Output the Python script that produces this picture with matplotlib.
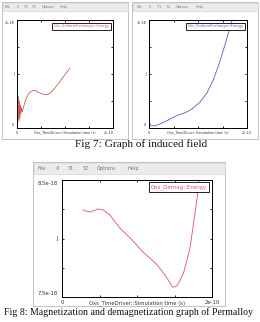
"""
Recreation of two OOMMF mmGraph screenshots (Fig 7) and one (Fig 8)
with their captions, drawn in one small figure.
"""

import matplotlib
matplotlib.use("Agg")
import matplotlib.pyplot as plt
from matplotlib.patches import Rectangle

W, H = 260, 322

# Fig 7 left: Oxs_UniformExchange::Energy (time in 1e-10 s, energy in 1e-28 J)
exch_t = [0.00, 0.01, 0.02, 0.03, 0.04, 0.05, 0.06, 0.07, 0.08, 0.09, 0.11,
          0.14, 0.18, 0.23, 0.29, 0.36, 0.43, 0.50, 0.57, 0.63, 0.70, 0.78,
          0.86, 0.94, 1.02, 1.10]
exch_e = [0.45, 0.66, 0.15, 0.58, 0.12, 0.50, 0.18, 0.42, 0.26, 0.38, 0.30,
          0.40, 0.52, 0.62, 0.68, 0.70, 0.67, 0.64, 0.62, 0.62, 0.65, 0.73,
          0.82, 0.92, 1.01, 1.11]

# Fig 7 right: Oxs_UniformExchange::Energy (time in 1e-10 s, energy in 1e-28 J)
exch2_t = [0.00, 0.04, 0.12, 0.27, 0.43, 0.59, 0.73, 0.88, 1.04, 1.18, 1.31,
           1.43, 1.55, 1.65, 1.71]
exch2_e = [0.17, 0.06, 0.06, 0.14, 0.25, 0.36, 0.42, 0.53, 0.72, 0.97, 1.33,
           1.78, 2.31, 2.78, 3.05]

# Fig 8: Oxs_Demag::Energy (time in 1e-10 s, energy in 1e-18 J)
demag_t = [0.28, 0.37, 0.48, 0.55, 0.64, 0.77, 0.91, 1.08, 1.27, 1.40, 1.44,
           1.48, 1.53, 1.57, 1.62, 1.66, 1.71, 1.75, 1.80, 1.83]
demag_e = [8.244, 8.226, 8.252, 8.244, 8.20, 8.09, 8.004, 7.885, 7.774,
           7.662, 7.62, 7.583, 7.594, 7.637, 7.705, 7.80, 7.93, 8.115, 8.34,
           8.52]

menu_items = ["File", "X", "Y1", "Y2", "Options", "Help"]


def frac(x0, y0, x1, y1):
    """pixel box (top-left origin) -> figure fraction rect"""
    return [x0 / W, 1 - y1 / H, (x1 - x0) / W, (y1 - y0) / H]


def draw_window(bg, box, bar_h, menu_x, fs):
    x0, y0, x1, y1 = box
    bg.add_patch(Rectangle((x0, y0), x1 - x0, y1 - y0, facecolor="white",
                           edgecolor="#b8b8b8", lw=0.6))
    bg.add_patch(Rectangle((x0 + 0.5, y0 + 0.5), x1 - x0 - 1, bar_h,
                           facecolor="#ececec", edgecolor="#d0d0d0", lw=0.4))
    for name, mx in zip(menu_items, menu_x):
        bg.text(mx, y0 + 0.5 + bar_h / 2, name, fontsize=fs, color="#777777",
                ha="left", va="center")


def draw_plot(fig, box, t, e, ylim, color, legend, ytop, ybot, fs, lfs,
              right_ha="center"):
    ax = fig.add_axes(frac(*box))
    ax.plot(t, e, color=color, lw=0.6)
    ax.set_xlim(0, 2)
    ax.set_ylim(*ylim)
    lo, hi = ylim
    ax.set_xticks([0, 0.5, 1, 1.5, 2])
    ax.set_yticks([lo + k * (hi - lo) / 4 for k in range(5)])
    ax.tick_params(direction="in", length=1.5, width=0.6, top=True,
                   right=True, labelbottom=False, labelleft=False)
    for sp in ax.spines.values():
        sp.set_linewidth(0.7)
    tr = ax.transAxes
    ax.text(-0.03, 0.99, ytop, transform=tr, fontsize=fs, ha="right",
            va="top", color="#333333")
    ax.text(-0.03, 0.5, "J", transform=tr, fontsize=fs, ha="right",
            va="center", color="#333333")
    ax.text(-0.03, 0.01, ybot, transform=tr, fontsize=fs, ha="right",
            va="bottom", color="#333333")
    ax.text(0.0, -0.025, "0", transform=tr, fontsize=fs, ha="center",
            va="top", color="#333333")
    ax.text(0.5, -0.025, "Oxs_TimeDriver::Simulation time (s)", transform=tr,
            fontsize=fs, ha="center", va="top", color="#333333")
    ax.text(1.0, -0.025, "2e-10", transform=tr, fontsize=fs, ha=right_ha,
            va="top", color="#333333")
    ax.text(0.965, 0.94, legend, transform=tr, fontsize=lfs, color=color,
            ha="right", va="center", zorder=10,
            bbox=dict(facecolor="white", edgecolor="#222222", lw=0.7,
                      boxstyle="square,pad=0.35"))
    return ax


fig = plt.figure(figsize=(W / 100, H / 100), dpi=100)
bg = fig.add_axes([0, 0, 1, 1])
bg.set_xlim(0, W)
bg.set_ylim(H, 0)
bg.axis("off")

# windows
draw_window(bg, (2, 2, 128, 139), 8, [5, 17, 24, 32, 42, 60], 2.4)
draw_window(bg, (132, 2, 258, 139), 8, [137, 149, 157, 166, 176, 196], 2.4)
draw_window(bg, (33, 162, 225, 306), 11, [38, 56, 67, 82, 97, 127], 3.6)

draw_plot(fig, (17, 20, 113, 128), exch_t, exch_e, (0, 2),
          "#d05a5a", "Oxs_UniformExchange::Energy", "2e-28", "0", 2.4, 2.6,
          right_ha="right")
draw_plot(fig, (149, 20, 247, 128), exch2_t, exch2_e, (0, 3),
          "#5a5ac8", "Oxs_UniformExchange::Energy", "3e-28", "0", 2.4, 2.6)
draw_plot(fig, (62, 180, 212, 297), demag_t, demag_e, (7.5, 8.5),
          "#e0506a", "Oxs_Demag::Energy", "8.5e-18", "7.5e-18", 3.8, 4.0)

# captions
bg.text(141, 144, "Fig 7: Graph of induced field", fontsize=8.1,
        family="Liberation Serif", ha="center", va="center", color="#111111")
bg.text(129, 312, "Fig 8: Magnetization and demagnetization graph of Permalloy",
        fontsize=7.1, family="Liberation Serif", ha="center", va="center",
        color="#111111")

fig.savefig("out.png", dpi=100)
